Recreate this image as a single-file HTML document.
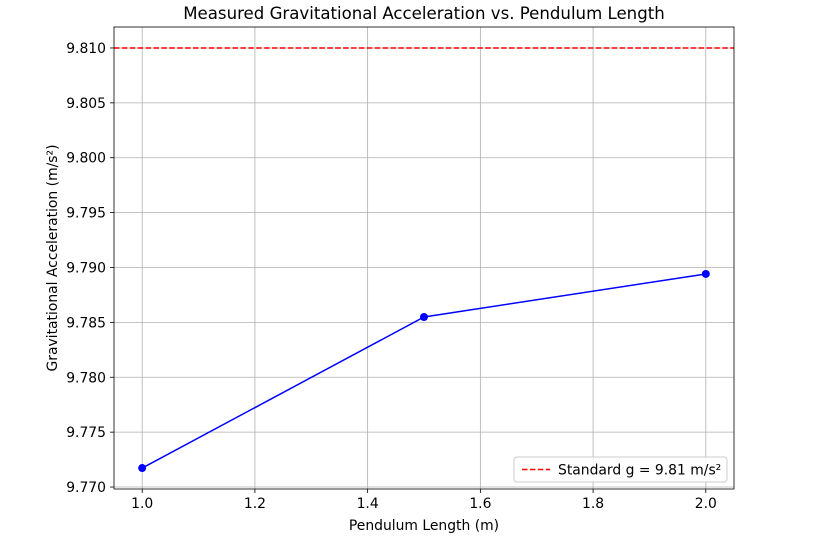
<!DOCTYPE html>
<html><head><meta charset="utf-8"><style>
body{margin:0;background:#fff;font-family:"Liberation Sans","DejaVu Sans",sans-serif;}
svg text{font-family:"DejaVu Sans","Liberation Sans",sans-serif;}
</style></head><body>
<svg id="chart" width="816" height="544" xmlns="http://www.w3.org/2000/svg"></svg>
<script>
const lengths = [1.0, 1.5, 2.0];
const gValues = [9.77173, 9.78549, 9.78941];
const standardG = 9.81;
const xTicks = [1.0, 1.2, 1.4, 1.6, 1.8, 2.0];
const yTicks = [9.770, 9.775, 9.780, 9.785, 9.790, 9.795, 9.800, 9.805, 9.810];

const L=114,R=734,T=27,B=489;
const xMin=0.95,xMax=2.05,yMin=9.76982,yMax=9.81191;
const sx=v=>L+(v-xMin)/(xMax-xMin)*(R-L);
const sy=v=>B-(v-yMin)/(yMax-yMin)*(B-T);
const svg=document.getElementById('chart');
const NS='http://www.w3.org/2000/svg';
function mk(tag,attrs,parent){const e=document.createElementNS(NS,tag);for(const k in attrs)e.setAttribute(k,attrs[k]);(parent||svg).appendChild(e);return e;}
const FS=13.9;
const grid=mk('g',{});


xTicks.forEach(t=>{const x=sx(t);
 mk('line',{x1:x,x2:x,y1:T,y2:B,stroke:'#b0b0b0','stroke-width':0.8},grid);
 mk('line',{x1:x,x2:x,y1:B,y2:B+4,stroke:'#000','stroke-width':0.8});
 const tx=mk('text',{x:x,y:B+19,'text-anchor':'middle','font-size':FS,fill:'#000'});tx.textContent=t.toFixed(1);
 
 
});
yTicks.forEach(t=>{const y=sy(t);
 mk('line',{x1:L,x2:R,y1:y,y2:y,stroke:'#b0b0b0','stroke-width':0.8},grid);
 mk('line',{x1:L-4,x2:L,y1:y,y2:y,stroke:'#000','stroke-width':0.8});
 const tx=mk('text',{x:L-8,y:y+5,'text-anchor':'end','font-size':FS,fill:'#000'});tx.textContent=t.toFixed(3);
 
 
});
const ref=mk('line',{x1:L,x2:R,y1:sy(standardG),y2:sy(standardG),stroke:'#ff0000','stroke-width':1.5,'stroke-dasharray':'5.5,2.4'});


const line=mk('polyline',{points:lengths.map((v,i)=>sx(v)+','+sy(gValues[i])).join(' '),fill:'none',stroke:'#0000ff','stroke-width':1.5});


lengths.forEach((v,i)=>{const c=mk('circle',{cx:sx(v),cy:sy(gValues[i]),r:4,fill:'#0000ff'});
 
 });
const frame=mk('rect',{x:L,y:T,width:R-L,height:B-T,fill:'none',stroke:'#000','stroke-width':0.8});


const title=mk('text',{x:(L+R)/2,y:19,'text-anchor':'middle','font-size':16.6,fill:'#000'});title.textContent='Measured Gravitational Acceleration vs. Pendulum Length';


const xt=mk('text',{x:(L+R)/2,y:530,'text-anchor':'middle','font-size':FS,fill:'#000'});xt.textContent='Pendulum Length (m)';


const yt=mk('text',{x:0,y:0,'text-anchor':'middle','font-size':FS,fill:'#000',transform:'translate(57,258) rotate(-90)'});yt.textContent='Gravitational Acceleration (m/s²)';


const lg=mk('g',{});


mk('rect',{x:514,y:457,width:213,height:25,rx:3,fill:'#fff','fill-opacity':0.8,stroke:'#ccc'},lg);
mk('line',{x1:522,x2:550,y1:469.5,y2:469.5,stroke:'#ff0000','stroke-width':1.5,'stroke-dasharray':'5.5,2.4'},lg);
const lt=mk('text',{x:558,y:474.5,'font-size':FS,fill:'#000'},lg);lt.textContent='Standard g = 9.81 m/s²';


</script>
</body></html>
